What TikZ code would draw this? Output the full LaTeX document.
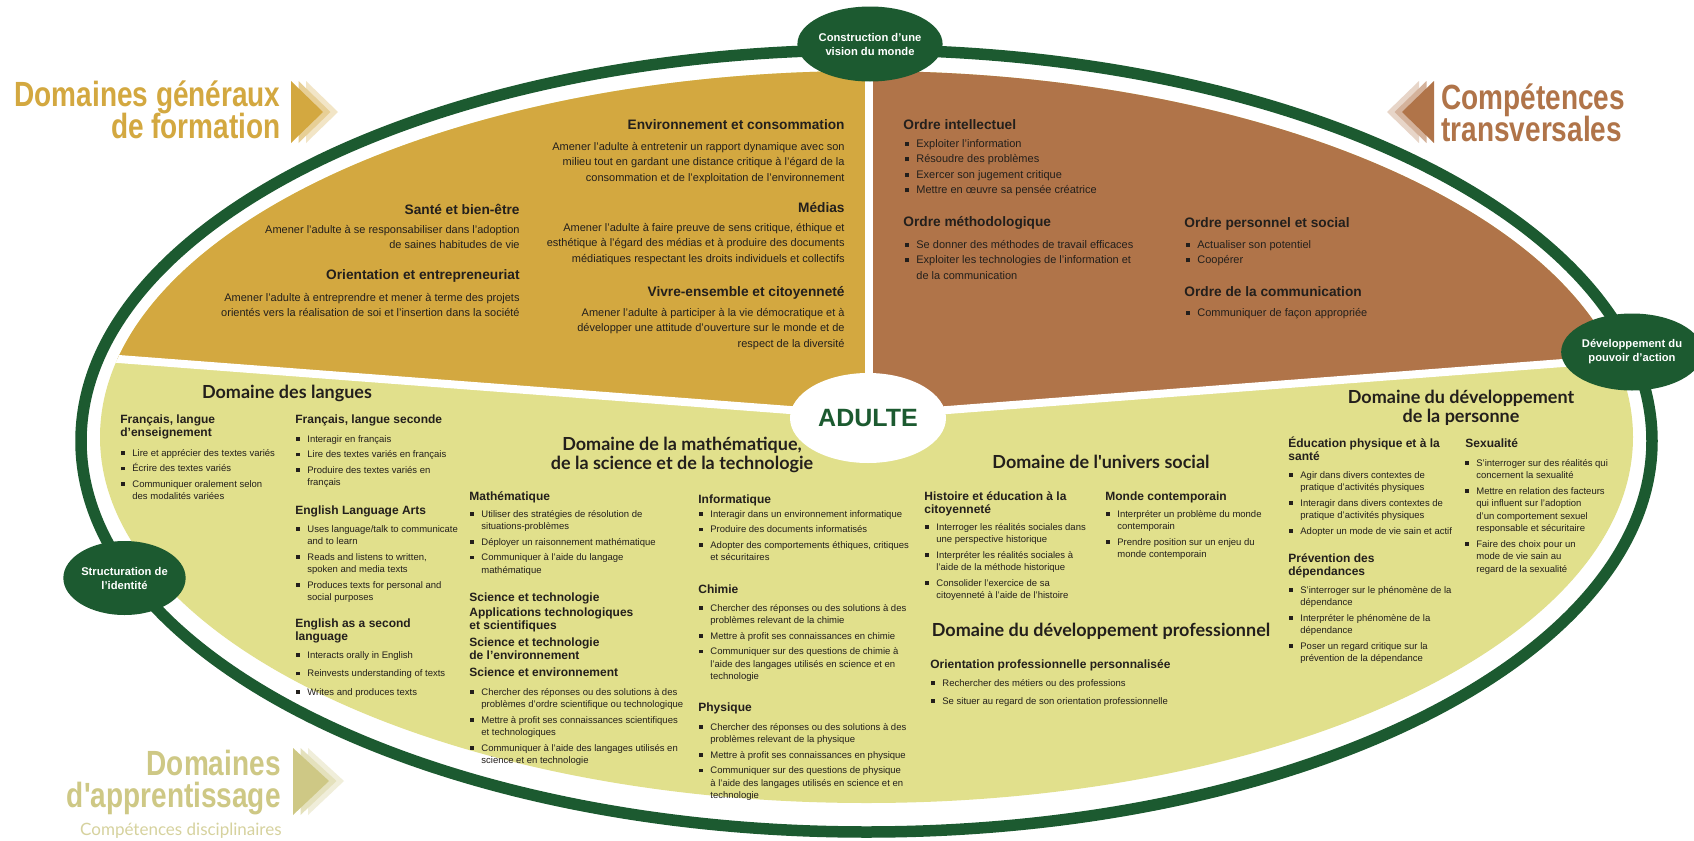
\documentclass[tikz,border=0pt]{standalone}
\usepackage{fontspec}
\setmainfont{Liberation Sans}
\newfontfamily\ttfont[FakeStretch=0.8]{Liberation Sans}
\newfontfamily\dhfont{Lato}
\usetikzlibrary{shapes.geometric}
\definecolor{grn}{HTML}{1C5A30}
\definecolor{gold}{HTML}{D3A840}
\definecolor{brn}{HTML}{B07449}
\definecolor{ylw}{HTML}{E1E08C}
\definecolor{khk}{HTML}{CEC885}
\definecolor{khl}{HTML}{D6D29E}
\definecolor{ink}{HTML}{231F1C}
\newcommand\fs{\rule{0pt}{1em}}
\newcommand\nols{\lineskiplimit=-20pt\relax}
\newcommand\yB{\makebox[5.5pt][l]{\rule[0.55pt]{1.75pt}{1.75pt}}}
\newcommand\yI{\makebox[5.5pt]{}}
\newcommand\bB{\makebox[5.5pt][l]{\rule[0.8pt]{2pt}{2pt}}}
\newcommand\bI{\makebox[5.5pt]{}}
\begin{document}
\begin{tikzpicture}[x=0.5pt,y=-0.5pt,
 tt/.style={inner sep=0pt},
 gh/.style={anchor=north east, inner sep=0pt, yshift=4.93pt, font=\bfseries\fontsize{6.85}{8}\selectfont, text=ink},
 bh/.style={gh, anchor=north west},
 gb/.style={anchor=north east, inner sep=0pt, yshift=3.96pt, align=right, font=\fontsize{5.5}{7.75}\selectfont, text=ink},
 bb/.style={gb, anchor=north west, align=left},
 dh/.style={anchor=north, inner sep=0pt, yshift=6.48pt, align=center, font=\dhfont\bfseries\fontsize{9}{9.5}\selectfont, text=ink},
 yh/.style={anchor=north west, inner sep=0pt, yshift=4.32pt, align=left, font=\bfseries\fontsize{6}{6.25}\selectfont\nols, text=ink},
 yb/.style={anchor=north west, inner sep=0pt, yshift=3.42pt, align=left, font=\fontsize{4.75}{6.25}\selectfont\nols, text=ink},
 ringnode/.style={ellipse, fill=grn, text=white, inner sep=0pt, align=center, font=\bfseries\fontsize{5.6}{7}\selectfont}
]
\fill[white] (0,0) rectangle (1694,841);
\useasboundingbox (0,0) rectangle (1694,841);

% titles
\fill[gold!30!white] (306,81) -- (338,112) -- (306,143) -- cycle;
\fill[gold!55!white] (298.5,81) -- (330.5,112) -- (298.5,143) -- cycle;
\fill[gold] (291,81) -- (323,112) -- (291,143) -- cycle;
\node[tt, anchor=north east, align=right, text=gold, font=\ttfont\bfseries\fontsize{17.5}{16}\selectfont\nols] (dgf) at (281,71) {\fs Domaines généraux\\de formation};

\fill[brn!30!white] (1419,81) -- (1387,112) -- (1419,143) -- cycle;
\fill[brn!55!white] (1426.5,81) -- (1394.5,112) -- (1426.5,143) -- cycle;
\fill[brn] (1434,81) -- (1402,112) -- (1434,143) -- cycle;
\node[tt, anchor=north west, align=left, text=brn, font=\ttfont\bfseries\fontsize{17.5}{16}\selectfont\nols] (ct) at (1441,74.5) {\fs Compétences\\transversales};

\fill[khk!30!white] (308,748) -- (344,781) -- (308,815) -- cycle;
\fill[khk!55!white] (300.5,748) -- (336.5,781) -- (300.5,815) -- cycle;
\fill[khk] (293,748) -- (329,781) -- (293,815) -- cycle;
\node[tt, anchor=north east, align=right, text=khk, font=\ttfont\bfseries\fontsize{17.5}{16}\selectfont\nols] (da) at (281,740) {\fs Domaines\\d'apprentissage};
\node[font=\dhfont\fontsize{8.5}{8.5}\selectfont, text=khl, anchor=base east, inner sep=0pt] (cd) at (282,835) {Compétences disciplinaires};

% ring
\draw[grn, line width=5.75pt] (866.5,441) ellipse [x radius=785.5, y radius=391];

% regions
\begin{scope}
\clip (866.5,437) ellipse [x radius=766.5, y radius=366];
\fill[ylw] (0,0) rectangle (1694,841);
\fill[gold] (869,416) -- (869,0) -- (0,0) -- (0,350) -- cycle;
\fill[brn] (869,416) -- (869,0) -- (1694,0) -- (1694,353) -- cycle;
\draw[white, line width=4pt] (0,350) -- (869,416) -- (1694,353);
\draw[white, line width=4pt] (869,416) -- (869,0);
\end{scope}

\node[ellipse, fill=white, minimum width=78pt, minimum height=45pt, inner sep=0pt, font=\bfseries\fontsize{12.5}{12.5}\selectfont, text=grn] (adulte) at (868,418) {ADULTE};

\node[ringnode, minimum width=55pt, minimum height=37.5pt] (vision) at (870,44) {Construction d'une\\vision du monde};
\node[ringnode, minimum width=54pt, minimum height=38.5pt] (pouvoir) at (1632,352) {Développement du\\pouvoir d'action};
\node[ringnode, minimum width=55.5pt, minimum height=37pt] (identite) at (124.5,578) {Structuration de\\l'identité};

% gold region
\node[gh] (envh) at (845,125) {\fs Environnement et consommation};
\node[gb] (envb) at (845,147) {\fs Amener l'adulte à entretenir un rapport dynamique avec son\\milieu tout en gardant une distance critique à l'égard de la\\consommation et de l'exploitation de l'environnement};
\node[gh] (medh) at (845,208) {\fs Médias};
\node[gb] (medb) at (845,228) {\fs Amener l'adulte à faire preuve de sens critique, éthique et\\esthétique à l'égard des médias et à produire des documents\\médiatiques respectant les droits individuels et collectifs};
\node[gh] (vivh) at (845,292) {\fs Vivre-ensemble et citoyenneté};
\node[gb] (vivb) at (845,313) {\fs Amener l'adulte à participer à la vie démocratique et à\\développer une attitude d'ouverture sur le monde et de\\respect de la diversité};
\node[gh] (sanh) at (520,210) {\fs Santé et bien-être};
\node[gb] (sanb) at (520,230) {\fs Amener l'adulte à se responsabiliser dans l'adoption\\de saines habitudes de vie};
\node[gh] (orih) at (520,275) {\fs Orientation et entrepreneuriat};
\node[gb] (orib) at (520,298) {\fs Amener l'adulte à entreprendre et mener à terme des projets\\orientés vers la réalisation de soi et l'insertion dans la société};

% brown region
\node[bh] (intel) at (903,125) {\fs Ordre intellectuel};
\node[bb] (intelb) at (905,144) {\fs\bB Exploiter l'information\\\bB Résoudre des problèmes\\\bB Exercer son jugement critique\\\bB Mettre en œuvre sa pensée créatrice};
\node[bh] (meth) at (903,222) {\fs Ordre méthodologique};
\node[bb] (methb) at (905,245) {\fs\bB Se donner des méthodes de travail efficaces\\\bB Exploiter les technologies de l'information et\\\bI de la communication};
\node[bh] (perso) at (1184,223) {\fs Ordre personnel et social};
\node[bb] (persob) at (1186,245) {\fs\bB Actualiser son potentiel\\\bB Coopérer};
\node[bh] (comm) at (1184,292) {\fs Ordre de la communication};
\node[bb] (commb) at (1186,313) {\fs\bB Communiquer de façon appropriée};

% yellow region: langues
\node[dh] (langues) at (287,393) {\fs Domaine des langues};
\node[yh] (fle) at (120,420) {\fs Français, langue\\d'enseignement};
\node[yb] (fleb) at (121,453) {\fs\yB Lire et apprécier des textes variés\\[1.5pt]\yB Écrire des textes variés\\[1.5pt]\yB Communiquer oralement selon\\\yI des modalités variées};
\node[yh] (fls) at (295,420) {\fs Français, langue seconde};
\node[yb] (flsb) at (296,439) {\fs\yB Interagir en français\\[1.5pt]\yB Lire des textes variés en français\\[1.5pt]\yB Produire des textes variés en\\\yI français};
\node[yh] (ela) at (295,511) {\fs English Language Arts};
\node[yb] (elab) at (296,529) {\fs\yB Uses language/talk to communicate\\\yI and to learn\\[1.5pt]\yB Reads and listens to written,\\\yI spoken and media texts\\[1.5pt]\yB Produces texts for personal and\\\yI social purposes};
\node[yh] (esl) at (295,624) {\fs English as a second\\language};
\node[yb] (eslb) at (296,655) {\fs\yB Interacts orally in English\\[3pt]\yB Reinvests understanding of texts\\[3pt]\yB Writes and produces texts};

% math science
\node[dh] (mst) at (682,445) {\fs Domaine de la mathématique,\\de la science et de la technologie};
\node[yh] (math) at (469,497) {\fs Mathématique};
\node[yb] (mathb) at (470,514) {\fs\yB Utiliser des stratégies de résolution de\\\yI situations-problèmes\\[1.5pt]\yB Déployer un raisonnement mathématique\\[1.5pt]\yB Communiquer à l'aide du langage\\\yI mathématique};
\node[yh] (st1) at (469,598) {\fs Science et technologie};
\node[yh] (ats) at (469,613) {\fs Applications technologiques\\et scientifiques};
\node[yh] (ste) at (469,643) {\fs Science et technologie\\de l'environnement};
\node[yh] (se) at (469,673) {\fs Science et environnement};
\node[yb] (seb) at (470,692) {\fs\yB Chercher des réponses ou des solutions à des\\\yI problèmes d'ordre scientifique ou technologique\\[1.5pt]\yB Mettre à profit ses connaissances scientifiques\\\yI et technologiques\\[1.5pt]\yB Communiquer à l'aide des langages utilisés en\\\yI science et en technologie};
\node[yh] (info) at (698,500) {\fs Informatique};
\node[yb] (infob) at (699,514) {\fs\yB Interagir dans un environnement informatique\\[1.5pt]\yB Produire des documents informatisés\\[1.5pt]\yB Adopter des comportements éthiques, critiques\\\yI et sécuritaires};
\node[yh] (chim) at (698,590) {\fs Chimie};
\node[yb] (chimb) at (699,608) {\fs\yB Chercher des réponses ou des solutions à des\\\yI problèmes relevant de la chimie\\[1.5pt]\yB Mettre à profit ses connaissances en chimie\\[1.5pt]\yB Communiquer sur des questions de chimie à\\\yI l'aide des langages utilisés en science et en\\\yI technologie};
\node[yh] (phys) at (698,708) {\fs Physique};
\node[yb] (physb) at (699,727) {\fs\yB Chercher des réponses ou des solutions à des\\\yI problèmes relevant de la physique\\[1.5pt]\yB Mettre à profit ses connaissances en physique\\[1.5pt]\yB Communiquer sur des questions de physique\\\yI à l'aide des langages utilisés en science et en\\\yI technologie};

% univers social
\node[dh] (us) at (1101,463) {\fs Domaine de l'univers social};
\node[yh] (hist) at (924,497) {\fs Histoire et éducation à la\\citoyenneté};
\node[yb] (histb) at (925,527) {\fs\yB Interroger les réalités sociales dans\\\yI une perspective historique\\[1.5pt]\yB Interpréter les réalités sociales à\\\yI l'aide de la méthode historique\\[1.5pt]\yB Consolider l'exercice de sa\\\yI citoyenneté à l'aide de l'histoire};
\node[yh] (monde) at (1105,497) {\fs Monde contemporain};
\node[yb] (mondeb) at (1106,514) {\fs\yB Interpréter un problème du monde\\\yI contemporain\\[1.5pt]\yB Prendre position sur un enjeu du\\\yI monde contemporain};

% professionnel
\node[dh] (prof) at (1101,631) {\fs Domaine du développement professionnel};
\node[yh] (opp) at (930,665) {\fs Orientation professionnelle personnalisée};
\node[yb] (oppb) at (931,683) {\fs\yB Rechercher des métiers ou des professions\\[2.75pt]\yB Se situer au regard de son orientation professionnelle};

% personne
\node[dh] (pers) at (1461,398) {\fs Domaine du développement\\de la personne};
\node[yh] (eps) at (1288,444) {\fs Éducation physique et à la\\santé};
\node[yb] (epsb) at (1289,475) {\fs\yB Agir dans divers contextes de\\\yI pratique d'activités physiques\\[1.5pt]\yB Interagir dans divers contextes de\\\yI pratique d'activités physiques\\[1.5pt]\yB Adopter un mode de vie sain et actif};
\node[yh] (prev) at (1288,559) {\fs Prévention des\\dépendances};
\node[yb] (prevb) at (1289,590) {\fs\yB S'interroger sur le phénomène de la\\\yI dépendance\\[1.5pt]\yB Interpréter le phénomène de la\\\yI dépendance\\[1.5pt]\yB Poser un regard critique sur la\\\yI prévention de la dépendance};
\node[yh] (sex) at (1465,444) {\fs Sexualité};
\node[yb] (sexb) at (1465,463) {\fs\yB S'interroger sur des réalités qui\\\yI concernent la sexualité\\[1.5pt]\yB Mettre en relation des facteurs\\\yI qui influent sur l'adoption\\\yI d'un comportement sexuel\\\yI responsable et sécuritaire\\[1.5pt]\yB Faire des choix pour un\\\yI mode de vie sain au\\\yI regard de la sexualité};
\end{tikzpicture}
\end{document}
